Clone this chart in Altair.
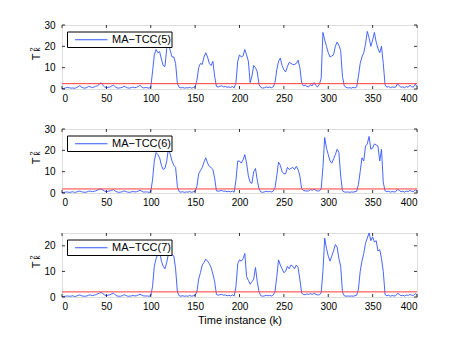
import altair as alt
import pandas as pd

# time instances (every 2nd sample)
k = list(range(0, 401, 2))

t2_ma5 = [
    0.3, 0.2, 0.5, 0.8, 0.6, 0.4, 0.5, 0.3, 0.6, 1.0,
    1.6, 0.9, 0.5, 0.4, 0.7, 1.2, 1.0, 0.6, 0.9, 1.3,
    1.5, 2.2, 3.0, 1.8, 1.0, 0.6, 0.8, 0.9, 1.4, 1.8,
    1.0, 0.5, 0.4, 0.6, 0.8, 1.3, 0.9, 0.5, 0.4, 0.7,
    0.9, 0.6, 0.8, 1.2, 1.7, 0.9, 0.5, 0.7, 0.6, 0.4,
    0.8, 8.0, 16.0, 18.5, 17.0, 17.5, 14.0, 11.0, 10.5, 19.0,
    21.5, 18.0, 15.0, 15.0, 12.0, 2.5, 0.8, 0.5, 0.7, 0.4,
    0.6, 0.5, 0.8, 0.4, 0.7, 1.0, 4.0, 10.0, 12.0, 11.5,
    15.0, 17.0, 15.0, 12.0, 11.0, 13.0, 6.0, 1.2, 0.9, 1.3,
    1.5, 1.0, 1.2, 0.8, 1.0, 0.7, 1.2, 0.5, 3.0, 13.0,
    16.0, 15.0, 15.5, 18.5, 16.0, 13.0, 3.0, 6.0, 11.0, 10.0,
    8.0, 2.0, 0.8, 0.4, 0.6, 1.0, 0.7, 0.9, 0.6, 1.0,
    3.0, 9.0, 13.0, 14.5, 11.0, 9.0, 8.0, 10.5, 12.5, 12.0,
    11.5, 11.5, 12.0, 13.5, 10.0, 3.0, 1.5, 1.8, 1.2, 1.0,
    2.0, 1.5, 3.0, 1.6, 1.0, 2.2, 5.0, 26.5, 23.0, 20.0,
    17.0, 15.0, 15.5, 16.0, 20.0, 22.0, 20.5, 18.0, 6.0, 1.5,
    0.8, 0.5, 0.6, 0.4, 0.8, 0.5, 1.0, 6.0, 12.0, 15.0,
    17.0, 21.0, 27.0, 24.0, 20.0, 23.0, 26.5, 22.0, 19.0, 17.0,
    20.0, 12.0, 2.0, 0.8, 1.2, 0.6, 1.0, 0.8, 0.9, 2.5,
    1.5, 0.8, 1.0, 0.6, 1.2, 0.8, 1.8, 1.0, 0.9, 2.3,
    1.2,
]

t2_ma6 = [
    0.2, 0.3, 0.4, 0.5, 0.3, 0.4, 0.6, 0.3, 0.4, 0.7,
    0.9, 0.6, 0.4, 0.3, 0.5, 0.8, 0.9, 0.6, 0.8, 1.0,
    1.3, 1.8, 1.9, 1.4, 0.9, 0.6, 0.8, 1.0, 1.3, 1.6,
    0.9, 0.5, 0.3, 0.4, 0.6, 1.0, 0.7, 0.4, 0.3, 0.5,
    0.7, 0.5, 0.6, 0.9, 1.3, 0.8, 0.4, 0.5, 0.5, 0.3,
    0.6, 6.0, 15.0, 19.0, 18.0, 16.5, 13.0, 11.0, 11.5, 15.0,
    21.0, 18.0, 15.0, 13.0, 12.0, 3.0, 0.6, 0.4, 0.6, 0.3,
    0.5, 0.4, 0.7, 0.3, 0.6, 0.8, 3.0, 9.0, 10.5, 12.0,
    14.5, 16.5, 14.0, 12.5, 12.0, 11.0, 7.0, 1.0, 0.8, 1.0,
    1.2, 0.8, 0.9, 0.6, 0.8, 0.5, 0.9, 0.4, 6.0, 15.0,
    15.0, 14.0, 15.5, 18.0, 14.0, 8.0, 5.0, 4.5, 10.0, 11.5,
    6.0, 2.0, 0.5, 0.3, 0.5, 0.8, 0.6, 0.7, 0.5, 0.9,
    2.5, 8.0, 14.5, 13.0, 10.0, 9.0, 9.0, 12.0, 11.0, 11.5,
    12.0, 11.0, 12.5, 11.0, 8.0, 2.0, 1.2, 1.0, 0.9, 1.0,
    1.6, 1.2, 1.8, 1.3, 0.9, 1.0, 2.0, 12.0, 26.0, 21.0,
    18.0, 15.0, 14.0, 16.0, 18.0, 20.5, 19.0, 8.0, 1.0, 0.5,
    0.4, 0.5, 0.3, 0.5, 0.4, 0.6, 0.8, 4.0, 10.0, 16.5,
    15.0, 22.0, 23.0, 26.5, 20.5, 21.0, 23.0, 22.5, 22.0, 15.0,
    20.5, 5.0, 1.0, 0.6, 0.8, 0.4, 0.7, 0.5, 0.6, 1.8,
    1.2, 0.6, 0.8, 0.4, 0.9, 0.7, 1.2, 0.8, 0.7, 1.5,
    0.8,
]

t2_ma7 = [
    0.1, 0.2, 0.3, 0.4, 0.3, 0.3, 0.5, 0.2, 0.3, 0.6,
    0.8, 0.5, 0.3, 0.3, 0.4, 0.7, 0.8, 0.5, 0.7, 0.9,
    1.2, 1.5, 1.8, 1.3, 0.8, 0.5, 0.7, 0.9, 1.2, 1.5,
    0.8, 0.4, 0.3, 0.3, 0.5, 0.9, 0.6, 0.3, 0.3, 0.4,
    0.6, 0.4, 0.5, 0.8, 1.1, 0.7, 0.4, 0.4, 0.4, 0.3,
    0.5, 4.0, 12.0, 15.0, 17.0, 18.0, 14.0, 12.0, 11.0, 13.5,
    17.0, 18.0, 16.5, 16.0, 11.0, 2.0, 0.5, 0.3, 0.5, 0.3,
    0.4, 0.3, 0.6, 0.3, 0.5, 0.7, 2.0, 7.0, 9.5, 12.5,
    13.5, 14.8, 14.0, 13.0, 11.5, 9.0, 6.0, 1.0, 0.7, 0.9,
    1.0, 0.7, 0.8, 0.5, 0.7, 0.4, 0.8, 0.4, 4.0, 13.0,
    14.5, 14.0, 15.0, 17.0, 8.0, 6.5, 5.0, 6.0, 7.0, 11.5,
    6.0, 2.0, 0.5, 0.3, 0.4, 0.7, 0.5, 0.6, 0.4, 0.8,
    2.0, 8.0, 14.5, 12.5, 11.0, 9.5, 10.0, 12.0, 11.0, 12.5,
    12.0, 11.0, 12.5, 11.5, 7.0, 1.5, 1.0, 0.9, 1.2, 1.0,
    1.3, 1.0, 1.4, 1.1, 0.8, 0.9, 1.5, 10.0, 23.0, 19.0,
    16.0, 14.0, 16.0, 18.0, 20.5, 19.5, 15.0, 12.0, 2.0, 0.5,
    0.3, 0.4, 0.3, 0.4, 0.3, 0.5, 0.7, 3.0, 10.0, 14.0,
    17.0, 21.0, 23.0, 25.0, 22.0, 23.5, 21.5, 22.0, 18.0, 18.5,
    15.0, 10.0, 1.0, 0.5, 0.7, 0.3, 0.6, 0.4, 0.5, 1.4,
    1.0, 0.5, 0.7, 0.4, 0.8, 0.6, 1.0, 0.7, 0.6, 1.3,
    0.7,
]

series_names = ["MA\u2212TCC(5)", "MA\u2212TCC(6)", "MA\u2212TCC(7)"]
thresholds = [2.5, 1.9, 2.0]
y_max = [30, 30, 25]
y_ticks = [[0, 10, 20, 30], [0, 10, 20, 30], [0, 10, 20]]
x_ticks = [0, 50, 100, 150, 200, 250, 300, 350, 400]
X_MAX = 400

W, H = 355, 64
FONT = "Liberation Sans"
BLUE = "#3355ff"
RED = "#ff3b3b"
VTICK = "M0,-1L0,1"
HTICK = "M-1,0L1,0"


def panel(vals, name, thr, ymax, yticks, last):
    df = pd.DataFrame({"k": k, "T2": vals})
    xs = alt.Scale(domain=[0, X_MAX], nice=False, zero=False)
    ys = alt.Scale(domain=[0, ymax], nice=False, zero=False)
    xaxis = alt.Axis(values=x_ticks, title="Time instance (k)" if last else None,
                     labelPadding=4, titlePadding=3, labelOverlap=False,
                     grid=False, gridOpacity=0, ticks=False, domain=False,
                     titleFontWeight="normal", titleFont=FONT, titleFontSize=11)
    yaxis = alt.Axis(values=yticks, title=None, labelPadding=7, labelOverlap=False,
                     grid=False, gridOpacity=0, ticks=False, domain=False)

    line = alt.Chart(df).mark_line(color=BLUE, strokeWidth=0.9, clip=True).encode(
        x=alt.X("k:Q", scale=xs, axis=xaxis),
        y=alt.Y("T2:Q", scale=ys, axis=yaxis),
    )
    rule = alt.Chart(pd.DataFrame({"thr": [thr]})).mark_rule(
        color=RED, strokeWidth=1
    ).encode(y=alt.Y("thr:Q", scale=ys, axis=None))

    # inward tick marks (Matlab box style) as short stroked symbols
    xt = pd.DataFrame({"t": x_ticks})
    yt = pd.DataFrame({"t": yticks})
    pstyle = dict(filled=False, stroke="black", strokeWidth=0.8, size=9, opacity=1)
    xt_bot = alt.Chart(xt).mark_point(shape=VTICK, **pstyle).encode(
        x=alt.X("t:Q", scale=xs, axis=None), y=alt.value(H - 1.5))
    xt_top = alt.Chart(xt).mark_point(shape=VTICK, **pstyle).encode(
        x=alt.X("t:Q", scale=xs, axis=None), y=alt.value(1.5))
    yt_left = alt.Chart(yt).mark_point(shape=HTICK, **pstyle).encode(
        y=alt.Y("t:Q", scale=ys, axis=None), x=alt.value(1.5))
    yt_right = alt.Chart(yt).mark_point(shape=HTICK, **pstyle).encode(
        y=alt.Y("t:Q", scale=ys, axis=None), x=alt.value(W - 1.5))

    leg = pd.DataFrame({"name": [name]})
    box = alt.Chart(leg).mark_rect(fill="white", stroke="black", strokeWidth=1).encode(
        x=alt.value(5.5), x2=alt.value(110), y=alt.value(7), y2=alt.value(22.5))
    sample = alt.Chart(leg).mark_rule(color=BLUE, strokeWidth=1).encode(
        x=alt.value(13), x2=alt.value(45.5), y=alt.value(14.75))
    label = alt.Chart(leg).mark_text(align="left", baseline="middle", font=FONT,
                                     fontSize=11, color="black").encode(
        x=alt.value(50), y=alt.value(15), text="name:N")

    t_main = alt.Chart(leg).mark_text(text="T", angle=270, font=FONT, fontSize=11,
                                      align="center", baseline="middle", color="black").encode(
        x=alt.value(-25.5), y=alt.value(32))
    t_sup = alt.Chart(leg).mark_text(text="2", angle=270, font=FONT, fontSize=8,
                                     align="center", baseline="middle", color="black").encode(
        x=alt.value(-29.5), y=alt.value(24.5))
    t_sub = alt.Chart(leg).mark_text(text="k", angle=270, font=FONT, fontSize=8,
                                     align="center", baseline="middle", color="black").encode(
        x=alt.value(-24), y=alt.value(24.5))

    return alt.layer(line, rule, xt_bot, xt_top, yt_left, yt_right,
                     box, sample, label, t_main, t_sup, t_sub).resolve_scale(
        x="independent", y="independent"
    ).properties(width=W, height=H)


all_vals = [t2_ma5, t2_ma6, t2_ma7]
panels = [panel(all_vals[i], series_names[i], thresholds[i], y_max[i], y_ticks[i], i == 2)
          for i in range(3)]

chart = alt.vconcat(*panels, spacing=40, bounds="flush").properties(
    padding={"left": 20, "top": 11, "right": 5, "bottom": 5}
).configure_axis(
    labelFont=FONT, labelFontSize=10.5, labelColor="black",
    titleFont=FONT, titleFontSize=11, titleColor="black", titleFontWeight="normal",
    ticks=False, domain=False, grid=False, gridOpacity=0,
).configure_view(stroke="black", strokeWidth=1).configure(background="white")

chart.save("out.html", embed_options={"renderer": "svg", "actions": False})
